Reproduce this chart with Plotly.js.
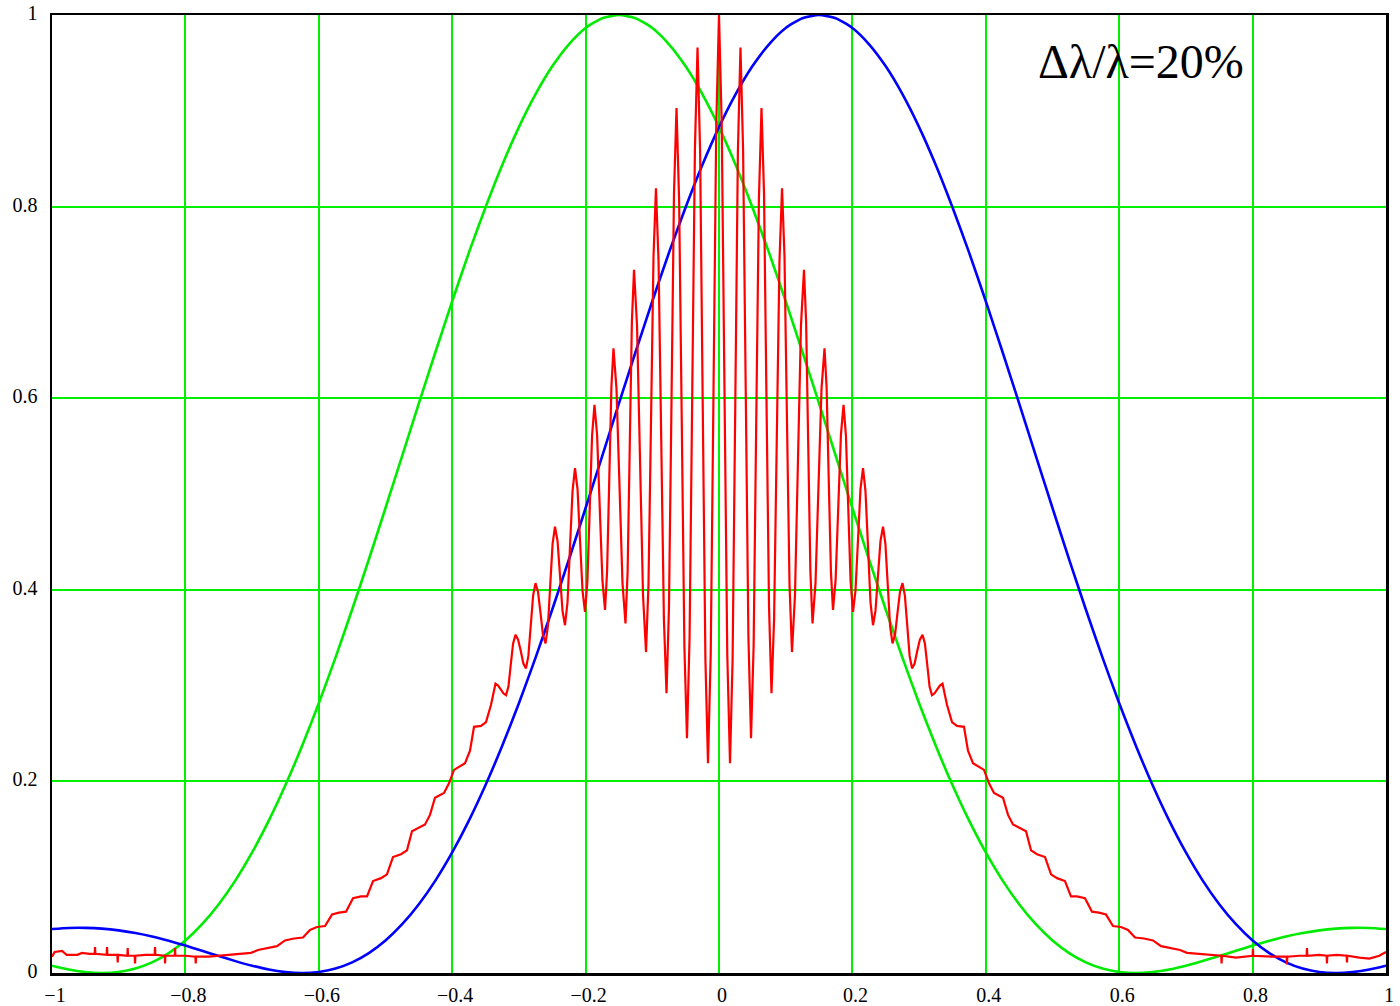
<!DOCTYPE html>
<html><head><meta charset="utf-8">
<script src="https://cdn.plot.ly/plotly-3.0.1.min.js"></script>
<style>html,body{margin:0;padding:0;background:#fff;} #chart{width:1400px;height:1006px;}</style>
</head><body><div id="chart"></div>
<script>
// ---- tick labels ----
const xTicks = [-1,-0.8,-0.6,-0.4,-0.2,0,0.2,0.4,0.6,0.8,1];
const xTickText = ["\u22121","\u22120.8","\u22120.6","\u22120.4","\u22120.2","0","0.2","0.4","0.6","0.8","1"];
const yTicks = [0,0.2,0.4,0.6,0.8,1];
const yTickText = ["0","0.2","0.4","0.6","0.8","1"];
const annotationText = "\u0394\u03bb/\u03bb=20%";

// ---- shared x positions for the green and blue curves ----
const curveX = [-1,-0.975,-0.95,-0.925,-0.9,-0.875,-0.85,-0.825,-0.8,-0.775,-0.75,-0.725,-0.7,-0.675,-0.65,-0.625,-0.6,-0.575,-0.55,-0.525,-0.5,-0.475,-0.45,-0.425,-0.4,-0.375,-0.35,-0.325,-0.3,-0.275,-0.25,-0.225,-0.2,-0.175,-0.15,-0.125,-0.1,-0.075,-0.05,-0.025,0,0.025,0.05,0.075,0.1,0.125,0.15,0.175,0.2,0.225,0.25,0.275,0.3,0.325,0.35,0.375,0.4,0.425,0.45,0.475,0.5,0.525,0.55,0.575,0.6,0.625,0.65,0.675,0.7,0.725,0.75,0.775,0.8,0.825,0.85,0.875,0.9,0.925,0.95,0.975,1];

// ---- green curve ----
const greenY = [0.0076,0.0036,0.0010,0,0.0011,0.0047,0.0111,0.0208,0.0339,0.0509,0.0718,0.0967,0.1258,0.1590,0.1962,0.2372,0.2816,0.3292,0.3794,0.4316,0.4854,0.5398,0.5946,0.6485,0.7012,0.7519,0.7993,0.8434,0.8830,0.9174,0.9464,0.9694,0.9864,0.9966,1.0,0.9966,0.9864,0.9694,0.9464,0.9174,0.8830,0.8434,0.7993,0.7519,0.7012,0.6485,0.5946,0.5398,0.4854,0.4316,0.3794,0.3292,0.2816,0.2372,0.1962,0.1590,0.1258,0.0967,0.0718,0.0509,0.0339,0.0208,0.0111,0.0047,0.0011,0,0.0010,0.0036,0.0076,0.0124,0.0177,0.0232,0.0286,0.0336,0.0381,0.0417,0.0445,0.0463,0.0471,0.0470,0.0459];

// ---- blue curve ----
const blueY = [0.0459,0.0470,0.0471,0.0463,0.0445,0.0417,0.0381,0.0336,0.0286,0.0232,0.0177,0.0124,0.0076,0.0036,0.0010,0,0.0011,0.0047,0.0111,0.0208,0.0339,0.0509,0.0718,0.0967,0.1258,0.1590,0.1962,0.2372,0.2816,0.3292,0.3794,0.4316,0.4854,0.5398,0.5946,0.6485,0.7012,0.7519,0.7993,0.8434,0.8830,0.9174,0.9464,0.9694,0.9864,0.9966,1.0,0.9966,0.9864,0.9694,0.9464,0.9174,0.8830,0.8434,0.7993,0.7519,0.7012,0.6485,0.5946,0.5398,0.4854,0.4316,0.3794,0.3292,0.2816,0.2372,0.1962,0.1590,0.1258,0.0967,0.0718,0.0509,0.0339,0.0208,0.0111,0.0047,0.0011,0,0.0010,0.0036,0.0076];

// ---- red fringe curve, [x, y] pairs ----
const redLeftFar = [[-1.000,0.017],[-0.996,0.022],[-0.985,0.023],[-0.978,0.019],[-0.962,0.019],[-0.955,0.021],[-0.944,0.020],
[-0.936,0.020],[-0.9355,0.027],[-0.935,0.020],[-0.918,0.019],[-0.9175,0.027],[-0.917,0.019],
[-0.902,0.019],[-0.9015,0.011],[-0.901,0.019],[-0.887,0.018],[-0.8865,0.026],[-0.886,0.018],
[-0.876,0.018],[-0.8755,0.010],[-0.875,0.018],[-0.860,0.019],[-0.846,0.019],[-0.8455,0.027],[-0.845,0.019],
[-0.831,0.018],[-0.8305,0.010],[-0.830,0.018],[-0.816,0.018],[-0.8155,0.026],[-0.815,0.018],[-0.800,0.018],
[-0.785,0.017],[-0.7845,0.010],[-0.784,0.017],[-0.765,0.017],[-0.750,0.018]];
const redLeftTail = [[-0.7346,0.019],[-0.7016,0.021],[-0.6912,0.024],[-0.6777,0.026],[-0.6627,0.028],[-0.6507,0.034],[-0.6372,0.036],[-0.6237,0.037],[-0.6132,0.045],[-0.6027,0.048],[-0.5907,0.049],[-0.5802,0.061],[-0.5697,0.063],[-0.5592,0.064],[-0.5487,0.078],[-0.5367,0.080],[-0.5277,0.080],[-0.5187,0.096],[-0.5067,0.099],[-0.4978,0.103],[-0.4888,0.121],[-0.4768,0.124],[-0.4678,0.128],[-0.4603,0.148],[-0.4513,0.151],[-0.4408,0.155],[-0.4333,0.165],[-0.4258,0.183],[-0.4123,0.188],[-0.4048,0.198],[-0.3973,0.212],[-0.3808,0.219],[-0.3733,0.232],[-0.3673,0.257],[-0.3568,0.258],[-0.3493,0.262],[-0.3418,0.280]];
const redCoreLeft = [[-0.3351,0.302],[-0.3312,0.300],[-0.3272,0.296],[-0.3232,0.292],[-0.3193,0.290],[-0.3157,0.299],[-0.3122,0.322],[-0.3087,0.344],[-0.3051,0.353],[-0.3012,0.348],[-0.2972,0.336],[-0.2933,0.323],[-0.2894,0.318],[-0.2858,0.331],[-0.2822,0.363],[-0.2787,0.394],[-0.2751,0.407],[-0.2714,0.398],[-0.2676,0.376],[-0.2639,0.353],[-0.2601,0.344],[-0.2565,0.362],[-0.2530,0.405],[-0.2495,0.448],[-0.2459,0.466],[-0.2421,0.451],[-0.2384,0.415],[-0.2346,0.378],[-0.2309,0.363],[-0.2271,0.387],[-0.2234,0.445],[-0.2196,0.503],[-0.2159,0.527],[-0.2121,0.505],[-0.2084,0.452],[-0.2046,0.399],[-0.2009,0.377],[-0.1973,0.409],[-0.1938,0.485],[-0.1903,0.561],[-0.1867,0.593],[-0.1828,0.562],[-0.1788,0.486],[-0.1748,0.410],[-0.1709,0.379],[-0.1678,0.419],[-0.1645,0.516],[-0.1613,0.612],[-0.1582,0.652],[-0.1537,0.610],[-0.1492,0.509],[-0.1447,0.407],[-0.1402,0.365],[-0.1370,0.419],[-0.1338,0.550],[-0.1306,0.680],[-0.1274,0.734],[-0.1229,0.676],[-0.1184,0.535],[-0.1139,0.394],[-0.1094,0.335],[-0.1057,0.406],[-0.1019,0.577],[-0.0982,0.748],[-0.0945,0.819],[-0.0906,0.742],[-0.0866,0.556],[-0.0826,0.369],[-0.0787,0.292],[-0.0750,0.382],[-0.0712,0.598],[-0.0675,0.814],[-0.0637,0.903],[-0.0598,0.807],[-0.0558,0.574],[-0.0519,0.341],[-0.0480,0.245],[-0.0441,0.351],[-0.0401,0.606],[-0.0361,0.860],[-0.0322,0.966],[-0.0283,0.857],[-0.0244,0.593],[-0.0204,0.328],[-0.0165,0.219],[-0.0124,0.333],[-0.0082,0.610],[-0.0041,0.886]];
const redCoreRight = [[0,1.0],[0.0041,0.886],[0.0082,0.610],[0.0124,0.333],[0.0165,0.219],[0.0204,0.328],[0.0244,0.593],[0.0283,0.857],[0.0322,0.966],[0.0361,0.860],[0.0401,0.606],[0.0441,0.351],[0.0480,0.245],[0.0519,0.341],[0.0558,0.574],[0.0598,0.807],[0.0637,0.903],[0.0675,0.814],[0.0712,0.598],[0.0750,0.382],[0.0787,0.292],[0.0826,0.369],[0.0866,0.556],[0.0906,0.742],[0.0945,0.819],[0.0982,0.748],[0.1019,0.577],[0.1057,0.406],[0.1094,0.335],[0.1139,0.394],[0.1184,0.535],[0.1229,0.676],[0.1274,0.734],[0.1306,0.680],[0.1338,0.550],[0.1370,0.419],[0.1402,0.365],[0.1447,0.407],[0.1492,0.509],[0.1537,0.610],[0.1582,0.652],[0.1613,0.612],[0.1645,0.516],[0.1678,0.419],[0.1709,0.379],[0.1748,0.410],[0.1788,0.486],[0.1828,0.562],[0.1867,0.593],[0.1903,0.561],[0.1938,0.485],[0.1973,0.409],[0.2009,0.377],[0.2046,0.399],[0.2084,0.452],[0.2121,0.505],[0.2159,0.527],[0.2196,0.503],[0.2234,0.445],[0.2271,0.387],[0.2309,0.363],[0.2346,0.378],[0.2384,0.415],[0.2421,0.451],[0.2459,0.466],[0.2495,0.448],[0.2530,0.405],[0.2565,0.362],[0.2601,0.344],[0.2639,0.353],[0.2676,0.376],[0.2714,0.398],[0.2751,0.407],[0.2787,0.394],[0.2822,0.363],[0.2858,0.331],[0.2894,0.318],[0.2933,0.323],[0.2972,0.336],[0.3012,0.348],[0.3051,0.353],[0.3087,0.344],[0.3122,0.322],[0.3157,0.299],[0.3193,0.290],[0.3232,0.292],[0.3272,0.296],[0.3312,0.300],[0.3351,0.302]];
const redRightTail = [[0.3418,0.280],[0.3493,0.262],[0.3568,0.258],[0.3673,0.257],[0.3733,0.232],[0.3808,0.219],[0.3973,0.212],[0.4048,0.198],[0.4123,0.188],[0.4258,0.183],[0.4333,0.165],[0.4408,0.155],[0.4513,0.151],[0.4603,0.148],[0.4678,0.128],[0.4768,0.124],[0.4888,0.121],[0.4978,0.103],[0.5067,0.099],[0.5187,0.096],[0.5277,0.080],[0.5367,0.080],[0.5487,0.078],[0.5592,0.064],[0.5697,0.063],[0.5802,0.061],[0.5907,0.049],[0.6027,0.048],[0.6132,0.045],[0.6237,0.037],[0.6372,0.036],[0.6507,0.034],[0.6627,0.028],[0.6777,0.026],[0.6912,0.024],[0.7016,0.021],[0.7346,0.019]];
const redRightFar = [[0.750,0.018],[0.753,0.018],[0.7535,0.010],[0.754,0.018],[0.775,0.016],[0.800,0.018],[0.8005,0.025],[0.801,0.018],[0.830,0.017],[0.851,0.017],[0.8515,0.009],[0.852,0.017],[0.870,0.018],[0.881,0.018],[0.8815,0.026],[0.882,0.018],[0.900,0.019],[0.911,0.018],[0.9115,0.010],[0.912,0.018],[0.926,0.019],[0.941,0.018],[0.9415,0.011],[0.942,0.018],[0.960,0.016],[0.975,0.015],[0.990,0.018],[1.000,0.022]];

const redAll = [].concat(redLeftFar, redLeftTail, redCoreLeft, redCoreRight, redRightTail, redRightFar);
const redX = redAll.map(p => p[0]);
const redY = redAll.map(p => p[1]);

const GRID = 'rgb(0,240,0)';
const traces = [
  {x: curveX, y: greenY, mode: 'lines', line: {color: 'rgb(0,235,0)', width: 2.6, shape: 'spline', smoothing: 0.6}, hoverinfo: 'skip'},
  {x: curveX, y: blueY, mode: 'lines', line: {color: 'rgb(0,0,255)', width: 2.6, shape: 'spline', smoothing: 0.6}, hoverinfo: 'skip'},
  {x: redX, y: redY, mode: 'lines', line: {color: 'rgb(255,0,0)', width: 2.2}, hoverinfo: 'skip'}
];

const tickFont = {family: 'Liberation Serif, Times New Roman, serif', size: 20, color: '#000'};
const layout = {
  width: 1400, height: 1006,
  margin: {l: 52, r: 14, t: 15, b: 33, pad: 0},
  paper_bgcolor: '#fff', plot_bgcolor: '#fff',
  showlegend: false,
  xaxis: {range: [-1, 1], tickmode: 'array', tickvals: xTicks, ticktext: xTickText,
    showgrid: true, gridcolor: GRID, gridwidth: 2, zeroline: false,
    showline: true, mirror: true, linecolor: '#000', linewidth: 2.5,
    ticks: '', tickfont: tickFont, ticklabelshift: 3, ticklabelstandoff: 2},
  yaxis: {range: [0, 1], tickmode: 'array', tickvals: yTicks, ticktext: yTickText,
    showgrid: true, gridcolor: GRID, gridwidth: 2, zeroline: false,
    showline: true, mirror: true, linecolor: '#000', linewidth: 2.5,
    ticks: '', tickfont: tickFont, ticklabelstandoff: 8, ticklabelshift: -2},
  annotations: [{text: annotationText, xref: 'x', yref: 'y', x: 0.632, y: 0.951,
    xanchor: 'center', yanchor: 'middle', showarrow: false,
    font: {family: 'Liberation Serif, Times New Roman, serif', size: 48, color: '#000'}}]
};
Plotly.newPlot('chart', traces, layout, {displayModeBar: false, staticPlot: true});
</script></body></html>
